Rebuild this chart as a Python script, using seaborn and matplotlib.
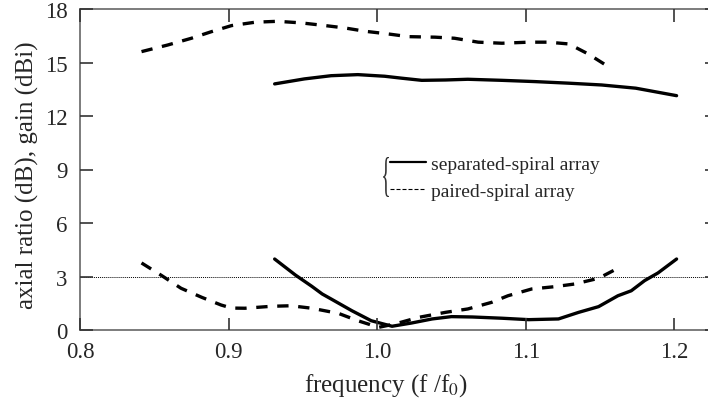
import numpy as np
import pandas as pd
import matplotlib
matplotlib.use("Agg")
import matplotlib.pyplot as plt
from matplotlib.lines import Line2D
from matplotlib.textpath import TextPath
from matplotlib.patches import PathPatch
from matplotlib.font_manager import FontProperties
from matplotlib.transforms import Affine2D
import seaborn as sns

# === DATOS ===
gain_paired_f = [0.8414, 0.859, 0.875, 0.8885, 0.902, 0.918, 0.933, 0.949, 0.965,
                 0.978, 0.992, 1.0075, 1.021, 1.039, 1.052, 1.068, 1.084, 1.102,
                 1.115, 1.129, 1.142, 1.158]
gain_paired_g = [15.61, 15.98, 16.36, 16.73, 17.07, 17.26, 17.31, 17.22, 17.07,
                 16.94, 16.75, 16.60, 16.45, 16.42, 16.36, 16.14, 16.08, 16.14,
                 16.14, 16.04, 15.48, 14.64]

gain_sep_f = [0.931, 0.951, 0.969, 0.987, 1.005, 1.0165, 1.030, 1.046, 1.061,
              1.084, 1.106, 1.129, 1.151, 1.174, 1.2015]
gain_sep_g = [13.80, 14.08, 14.26, 14.32, 14.23, 14.12, 14.00, 14.02, 14.06,
              14.00, 13.93, 13.84, 13.74, 13.56, 13.14]

ar_paired_f = [0.8414, 0.855, 0.868, 0.882, 0.895, 0.902, 0.911, 0.929, 0.942,
               0.956, 0.974, 0.987, 1.001, 1.012, 1.028, 1.046, 1.061, 1.077,
               1.088, 1.104, 1.1195, 1.133, 1.149, 1.161]
ar_paired_r = [3.76, 3.05, 2.34, 1.83, 1.40, 1.23, 1.22, 1.33, 1.36,
               1.22, 0.93, 0.52, 0.15, 0.34, 0.71, 0.99, 1.18, 1.55,
               1.92, 2.30, 2.43, 2.58, 2.90, 3.42]

ar_sep_f = [0.931, 0.945, 0.956, 0.963, 0.969, 0.983, 0.996, 1.010, 1.023,
            1.037, 1.050, 1.064, 1.084, 1.102, 1.122, 1.1356, 1.149, 1.162,
            1.171, 1.180, 1.189, 1.2015]
ar_sep_r = [3.98, 3.08, 2.45, 2.02, 1.74, 1.08, 0.52, 0.21, 0.39,
            0.62, 0.75, 0.73, 0.66, 0.58, 0.62, 0.99, 1.31, 1.92,
            2.20, 2.77, 3.20, 3.98]

x_ticks = [0.8, 0.9, 1.0, 1.1, 1.2]
y_ticks = [0, 3, 6, 9, 12, 15, 18]
labels = ["separated-spiral array", "paired-spiral array"]

# === ESTILO ===
sns.set_style("ticks")
plt.rcParams["font.family"] = ["Liberation Serif", "DejaVu Serif"]
plt.rcParams["mathtext.fontset"] = "stix"

W, H = 708, 402
fig = plt.figure(figsize=(W / 100, H / 100), dpi=100)
ax = fig.add_axes([80 / W, 71 / H, 637 / W, 321 / H])

dash = (0, (3.4, 2.9))
LW = 2.4

curvas = [
    (gain_paired_f, gain_paired_g, dash),
    (gain_sep_f, gain_sep_g, "-"),
    (ar_paired_f, ar_paired_r, dash),
    (ar_sep_f, ar_sep_r, "-"),
]
for xs, ys, ls in curvas:
    sns.lineplot(x=xs, y=ys, ax=ax, color="black", lw=LW, sort=False,
                 estimator=None, linestyle=ls, solid_capstyle="round")

ax.axhline(3, color="black", lw=0.7, ls=(0, (1, 1)))

ax.set_xlim(0.8, 1.2287)
ax.set_ylim(0, 18)
ax.set_xticks(x_ticks)
ax.set_xticklabels([f"{v:.1f}" for v in x_ticks])
ax.set_yticks(y_ticks)

for s in ["left", "bottom", "top"]:
    ax.spines[s].set_color("#666666")
    ax.spines[s].set_linewidth(1.2)
ax.spines["right"].set_visible(False)
ax.set_axisbelow(False)

ax.tick_params(axis="x", which="major", direction="in", length=9, width=1.2,
               color="#333333", top=True, labelsize=16.5, pad=8)
ax.tick_params(axis="y", which="major", direction="in", length=9, width=1.2,
               color="#333333", right=True, labelsize=16.5, pad=9)

ax.set_xlabel(r"frequency (f /f$_\mathrm{0}$)", fontsize=18)
ax.set_ylabel("axial ratio (dB), gain (dBi)", fontsize=18)
ax.xaxis.set_label_coords(0.48, -0.128)
ax.yaxis.set_label_coords(-0.064, 0.485)

# === LEYENDA ===
handles = [
    Line2D([], [], color="black", lw=1.6, ls="-"),
    Line2D([], [], color="black", lw=0.8, ls=(0, (3.6, 1.8))),
]
ax.legend(handles, labels, loc="upper left", bbox_to_anchor=(0.4867, 0.5452),
          frameon=False, fontsize=14, handlelength=1.85, handletextpad=0.25,
          labelspacing=0.5, borderpad=0, borderaxespad=0)

# llave "{" estirada a la izquierda de la leyenda
tp = TextPath((0, 0), "{", size=1, prop=FontProperties(family="Liberation Serif"))
ext = tp.get_extents()
bx0, by0, bw, bh = 383, 158, 6, 40   # caja en píxeles (desde arriba)
tr = (Affine2D().translate(-ext.x0, -ext.y0)
      .scale(bw / ext.width / W, bh / ext.height / H)
      .translate(bx0 / W, (H - by0 - bh) / H)) + fig.transFigure
fig.patches.append(PathPatch(tp, transform=tr, facecolor="#333333",
                             edgecolor="none"))

plt.savefig("out.png", dpi=100)
